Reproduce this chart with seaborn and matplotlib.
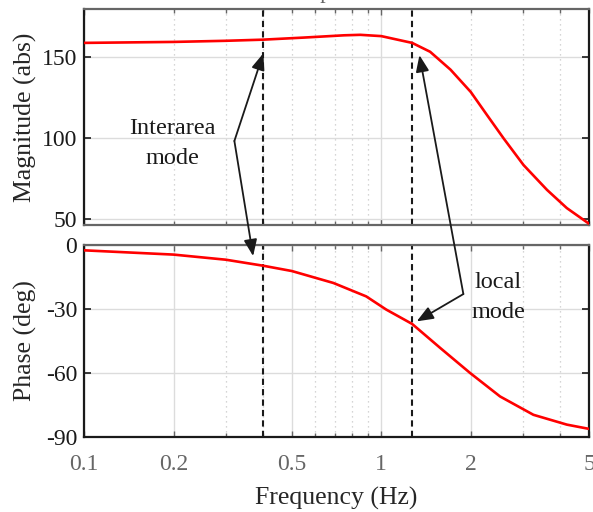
import numpy as np
import pandas as pd
import seaborn as sns
import matplotlib
matplotlib.use("Agg")
import matplotlib.pyplot as plt
from matplotlib.ticker import FixedLocator, LogLocator, NullFormatter
from matplotlib.patches import ConnectionPatch

# values
mag_freq = [0.1, 0.2, 0.3, 0.4, 0.55, 0.75, 0.85, 1.0, 1.27, 1.46, 1.71, 2.0,
            2.27, 2.58, 3.01, 3.61, 4.21, 5.0]
mag_values = [159.0, 159.6, 160.3, 161.0, 162.3, 163.7, 164.0, 163.2, 159.0, 153.5,
              142.4, 128.6, 114.2, 99.8, 83.3, 67.9, 56.6, 46.9]

phase_freq = [0.1, 0.2, 0.3, 0.4, 0.5, 0.69, 0.89, 1.04, 1.27, 1.58, 1.99, 2.51,
              3.25, 4.21, 5.0]
phase_values = [-2.5, -4.5, -6.9, -9.7, -12.2, -17.8, -24.1, -30.3, -37.0, -48.3,
                -60.0, -71.0, -79.6, -84.2, -86.2]

mode_freqs = [0.4, 1.27]  # interarea, local

x_ticks = [0.1, 0.2, 0.5, 1, 2, 5]
x_ticklabels = ["0.1", "0.2", "0.5", "1", "2", "5"]
x_minor = [0.3, 0.4, 0.6, 0.7, 0.8, 0.9, 3, 4]
mag_ticks = [50, 100, 150]
phase_ticks = [-90, -60, -30, 0]

GRAY = "#666666"

sns.set_theme(style="white", rc={"axes.unicode_minus": False})
plt.rcParams["font.family"] = ["Liberation Serif", "DejaVu Serif"]

fig = plt.figure(figsize=(5.93, 5.12), dpi=100)
ax_mag = fig.add_axes([0.1417, 0.5605, 0.8516, 0.4219])
ax_ph = fig.add_axes([0.1417, 0.1465, 0.8516, 0.375])

mag_df = pd.DataFrame({"freq": mag_freq, "mag": mag_values})
ph_df = pd.DataFrame({"freq": phase_freq, "phase": phase_values})
sns.lineplot(data=mag_df, x="freq", y="mag", ax=ax_mag, color="#ff0000", lw=1.9, zorder=3)
sns.lineplot(data=ph_df, x="freq", y="phase", ax=ax_ph, color="#ff0000", lw=1.9, zorder=3)

for ax in (ax_mag, ax_ph):
    ax.set_xscale("log")
    ax.set_xlim(0.1, 5)
    ax.set_axisbelow(True)
    for f in mode_freqs:
        ax.axvline(f, color="k", ls=(0, (3, 2)), lw=1.5, zorder=2)
    for side in ("left", "right"):
        ax.spines[side].set_color("k")
        ax.spines[side].set_linewidth(1.6)
    for side in ("top", "bottom"):
        ax.spines[side].set_color(GRAY)
        ax.spines[side].set_linewidth(1.6)
    ax.tick_params(axis="x", which="both", direction="in", top=True, bottom=True,
                   color=GRAY, labelcolor=GRAY, labelsize=17, width=1.0)
    ax.tick_params(axis="x", which="major", length=4)
    ax.tick_params(axis="x", which="minor", length=3)
    ax.tick_params(axis="y", direction="in", left=True, right=True, color="k",
                   labelcolor="k", labelsize=17, length=5, width=1.2, pad=5)
    ax.xaxis.set_minor_formatter(NullFormatter())
    ax.grid(True, which="major", color="#dcdcdc", lw=1.0, ls="-")
    ax.grid(True, which="minor", axis="x", color="#c8c8c8", lw=0.9, ls=(0, (1, 3)))
    ax.set_xlabel("")
    ax.set_ylabel("")

# top panel: decade majors only
ax_mag.xaxis.set_major_locator(LogLocator(base=10))
ax_mag.xaxis.set_minor_locator(LogLocator(base=10, subs=np.arange(2, 10)))
ax_mag.tick_params(axis="x", labelbottom=False)
ax_mag.set_ylim(46.1, 180)
ax_mag.set_yticks(mag_ticks)
ax_mag.set_ylabel("Magnitude (abs)", fontsize=18.5)

# bottom panel
ax_ph.xaxis.set_major_locator(FixedLocator(x_ticks))
ax_ph.set_xticklabels(x_ticklabels)
ax_ph.xaxis.set_minor_locator(FixedLocator(x_minor))
ax_ph.spines["bottom"].set_color("k")
ax_ph.set_ylim(-90, 0)
ax_ph.set_yticks(phase_ticks)
ax_ph.set_ylabel("Phase (deg)", fontsize=18.5)
ax_ph.set_xlabel("Frequency (Hz)", fontsize=18.5, labelpad=9)
ax_ph.tick_params(axis="x", pad=12)

for ax in (ax_mag, ax_ph):
    ax.yaxis.set_label_coords(-0.093, 0.5)

# title (mostly above the canvas, as in the reference)
fig.text(0.5675, 1.004, "Compensator", ha="center", va="baseline",
         fontsize=16, color=GRAY)

# annotations
def arrow(xy_from, ax_from, xy_to, ax_to):
    con = ConnectionPatch(xyA=xy_from, coordsA=ax_from.transData,
                          xyB=xy_to, coordsB=ax_to.transData,
                          arrowstyle="-|>,head_length=0.5,head_width=0.2",
                          mutation_scale=20, lw=1.3, color="k",
                          shrinkA=0, shrinkB=0, zorder=5)
    fig.add_artist(con)

ax_mag.text(0.1977, 96.8, "Interarea\nmode", ha="center", va="center",
            fontsize=17.5, linespacing=1.55, color="k")
arrow((0.3205, 98.2), ax_mag, (0.401, 152.5), ax_mag)
arrow((0.3205, 98.2), ax_mag, (0.3706, -5.2), ax_ph)

ax_ph.text(2.47, -24.7, "local\nmode", ha="center", va="center",
           fontsize=17.5, linespacing=1.55, color="k")
arrow((1.889, -23.0), ax_ph, (1.316, -35.8), ax_ph)
arrow((1.889, -23.0), ax_ph, (1.344, 151.4), ax_mag)

fig.savefig("out.png", dpi=100)
